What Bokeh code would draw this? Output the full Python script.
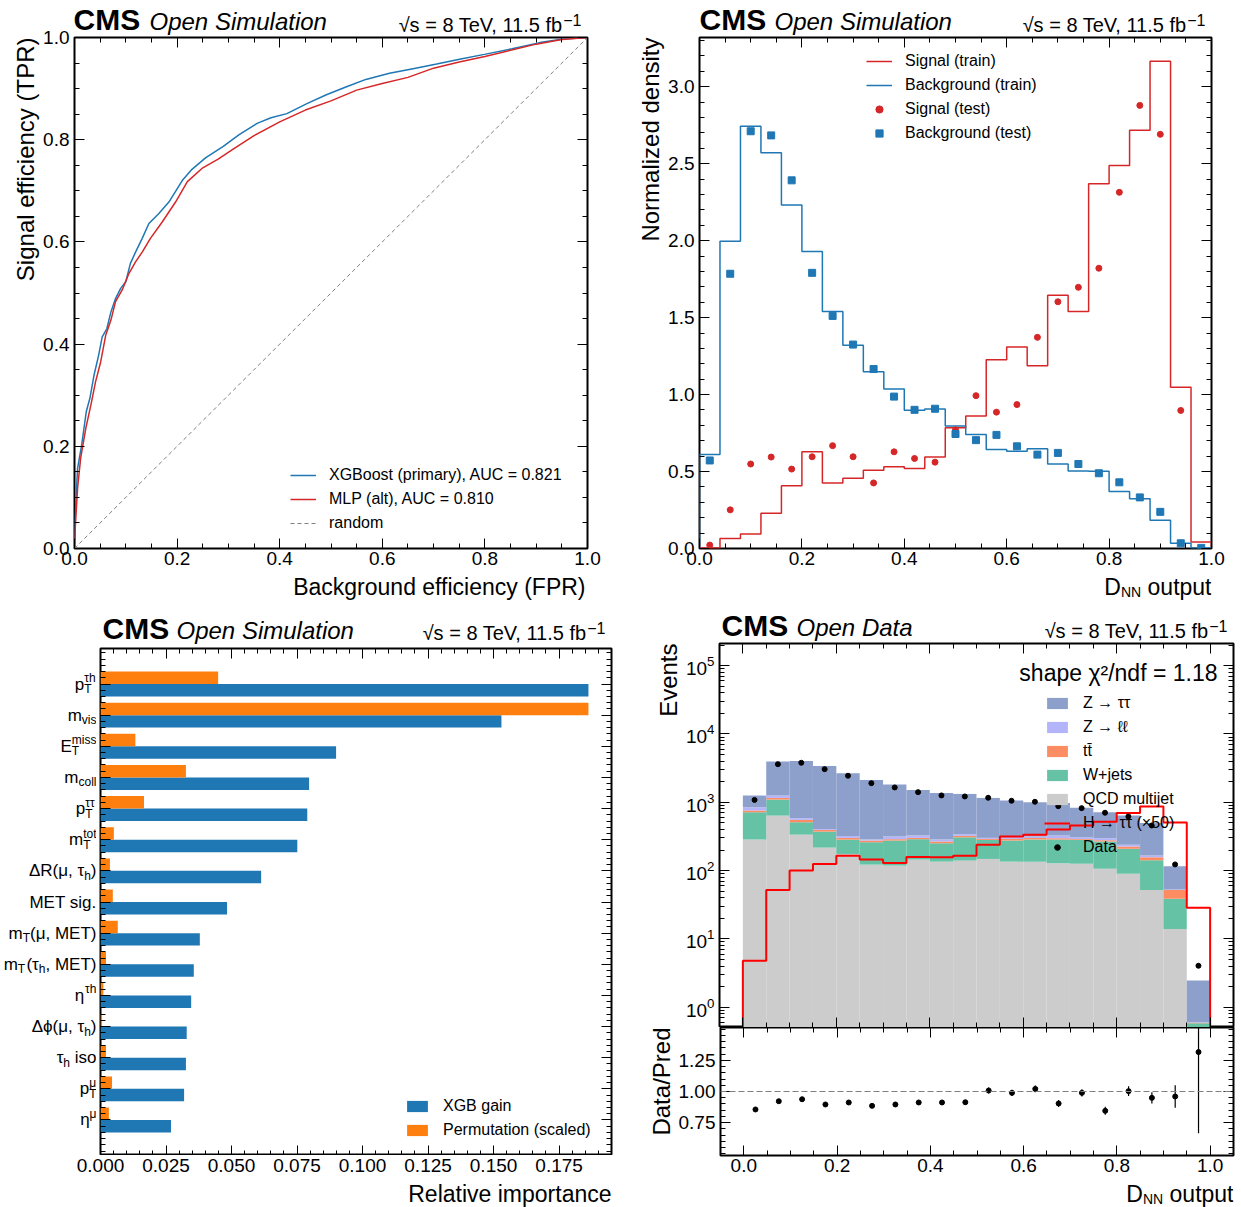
import math
import numpy as np
from bokeh.plotting import figure
from bokeh.models import (Range1d, Label, Legend, LegendItem, SingleIntervalTicker, FixedTicker,
                          NumeralTickFormatter, CustomJSTickFormatter, LinearAxis, LogAxis,
                          LogTickFormatter, Span)
from bokeh.layouts import row, column
from bokeh.embed import file_html
from bokeh.resources import INLINE

FONT = "Liberation Sans"
NAN = float("nan")

# ---------------- ROC curves ----------------
xgb_fpr = [0.0, 0.001, 0.003, 0.006, 0.014, 0.023, 0.030, 0.038, 0.047, 0.054, 0.063, 0.071, 0.080,
           0.090, 0.100, 0.109, 0.119, 0.132, 0.145, 0.164, 0.184, 0.210, 0.229, 0.256, 0.290, 0.321,
           0.356, 0.383, 0.414, 0.452, 0.491, 0.529, 0.568, 0.614, 0.660, 0.706, 0.753, 0.799, 0.853,
           0.907, 0.953, 1.0]
xgb_tpr = [0.0, 0.053, 0.098, 0.157, 0.203, 0.268, 0.294, 0.339, 0.378, 0.414, 0.430, 0.463, 0.489,
           0.509, 0.522, 0.558, 0.580, 0.607, 0.636, 0.655, 0.678, 0.720, 0.742, 0.765, 0.787, 0.810,
           0.832, 0.843, 0.851, 0.870, 0.888, 0.903, 0.918, 0.930, 0.939, 0.948, 0.958, 0.967, 0.978,
           0.990, 0.997, 1.0]
mlp_fpr = [0.0, 0.001, 0.006, 0.012, 0.022, 0.032, 0.041, 0.051, 0.061, 0.071, 0.080, 0.093, 0.106,
           0.119, 0.132, 0.148, 0.171, 0.197, 0.220, 0.250, 0.280, 0.310, 0.350, 0.400, 0.450, 0.500,
           0.550, 0.600, 0.650, 0.700, 0.750, 0.800, 0.850, 0.900, 0.950, 1.0]
mlp_tpr = [0.0, 0.033, 0.118, 0.177, 0.235, 0.281, 0.326, 0.365, 0.418, 0.447, 0.483, 0.506, 0.538,
           0.561, 0.580, 0.607, 0.639, 0.678, 0.718, 0.745, 0.762, 0.782, 0.808, 0.835, 0.858, 0.876,
           0.897, 0.910, 0.922, 0.940, 0.952, 0.963, 0.975, 0.987, 0.996, 1.0]
random_fpr = [0.0, 1.0]
random_tpr = [0.0, 1.0]
roc_labels = ["XGBoost (primary), AUC = 0.821", "MLP (alt), AUC = 0.810", "random"]

# ---------------- classifier output (25 bins on [0, 1]) ----------------
score_edges = np.linspace(0.0, 1.0, 26)
sig_train = [0.004, 0.065, 0.094, 0.229, 0.408, 0.628, 0.426, 0.457, 0.509, 0.531, 0.520, 0.594, 0.785,
             0.861, 1.226, 1.309, 1.188, 1.646, 1.540, 2.370, 2.489, 2.717, 3.166, 1.047, 0.043]
bkg_train = [0.610, 1.996, 2.744, 2.572, 2.231, 1.930, 1.540, 1.321, 1.148, 1.036, 0.899, 0.906, 0.796,
             0.740, 0.643, 0.632, 0.648, 0.549, 0.504, 0.502, 0.370, 0.323, 0.184, 0.034, 0.004]
sig_test = [0.022, 0.251, 0.549, 0.594, 0.516, 0.596, 0.668, 0.596, 0.426, 0.628, 0.585, 0.561, 0.771,
            0.993, 0.886, 0.935, 1.372, 1.603, 1.697, 1.821, 2.314, 2.879, 2.691, 0.897, NAN]
bkg_test = [0.572, 1.785, 2.711, 2.684, 2.392, 1.791, 1.511, 1.325, 1.166, 0.987, 0.901, 0.908, 0.744,
            0.704, 0.738, 0.664, 0.610, 0.621, 0.549, 0.489, 0.430, 0.332, 0.238, 0.034, 0.004]
score_labels = ["Signal (train)", "Background (train)", "Signal (test)", "Background (test)"]

# ---------------- feature importance ----------------
# label pieces: ("n", text) normal, ("sub", t), ("sup", t), ("ss", sub, sup)
feature_labels = [
    [("n", "p"), ("ss", "T", "τh")],
    [("n", "m"), ("sub", "vis")],
    [("n", "E"), ("ss", "T", "miss")],
    [("n", "m"), ("sub", "coll")],
    [("n", "p"), ("ss", "T", "ττ")],
    [("n", "m"), ("ss", "T", "tot")],
    [("n", "ΔR(μ, τ"), ("sub", "h"), ("n", ")")],
    [("n", "MET sig.")],
    [("n", "m"), ("sub", "T"), ("n", "(μ, MET)")],
    [("n", "m"), ("sub", "T"), ("n", "(τ"), ("sub", "h"), ("n", ", MET)")],
    [("n", "η"), ("sup", "τh")],
    [("n", "Δϕ(μ, τ"), ("sub", "h"), ("n", ")")],
    [("n", "τ"), ("sub", "h"), ("n", " iso")],
    [("n", "p"), ("ss", "T", "μ")],
    [("n", "η"), ("sup", "μ")],
]
xgb_gain = [0.1862, 0.1530, 0.0899, 0.0796, 0.0789, 0.0751, 0.0613, 0.0483, 0.0379, 0.0356, 0.0346,
            0.0329, 0.0326, 0.0319, 0.0269]
perm_scaled = [0.0449, 0.1862, 0.0133, 0.0326, 0.0166, 0.0051, 0.0036, 0.0047, 0.0066, 0.0021, 0.0011,
               0.0006, 0.0021, 0.0044, 0.0032]
imp_labels = ["XGB gain", "Permutation (scaled)"]

# ---------------- DNN output in data (20 bins on [0, 1]) ----------------
dnn_edges = np.linspace(0.0, 1.0, 21)
qcd = [284, 638, 336, 217, 175, 122, 118, 145, 135, 140, 148, 135, 135, 128, 126, 106, 90, 52, 14, 0]
wjets = [430, 456, 174, 155, 109, 138, 157, 143, 116, 167, 133, 140, 149, 156, 156, 161, 118, 89, 24.6, 0.58]
ttbar = [41, 63, 41, 22, 17, 15, 13, 13, 15, 15, 10, 16, 17, 13, 8, 11, 17, 16, 13.4, 0.01]
zll = [90, 96, 32, 13, 21, 9, 27, 24, 18, 18, 10, 16, 14, 28, 18, 20, 14, 9, 1, 0.01]
ztt = [408, 2684, 3444, 2996, 2333, 1838, 1499, 1190, 1086, 984, 856, 751, 685, 650, 522, 418, 402, 329, 63, 1.86]
htt_x50 = [4.78, 52, 100, 125, 165, 145, 129, 158, 156, 165, 239, 316, 334, 398, 457, 520, 697, 868, 506, 28.5]
data_obs = [1082, 3612, 3787, 3055, 2443, 1905, 1648, 1406, 1259, 1216, 1163, 1052, 1016, 877, 820, 702,
            620, 457, 123, 4.04]
ratio = [0.856, 0.922, 0.938, 0.896, 0.912, 0.885, 0.896, 0.912, 0.912, 0.914, 1.008, 0.989, 1.021,
         0.904, 0.989, 0.845, 1.003, 0.949, 0.960, 1.316]
ratio_err = [0.012, 0.010, 0.010, 0.010, 0.012, 0.012, 0.013, 0.014, 0.016, 0.018, 0.025, 0.025, 0.027,
             0.028, 0.030, 0.032, 0.040, 0.045, 0.090, 0.650]
proc_labels = ["Z → ττ", "Z → ℓℓ", "tt\u0304", "W+jets", "QCD multijet", "H → ττ (×50)", "Data"]
proc_colors = ["#8DA0CB", "#B4B4FA", "#FC8D62", "#66C2A5", "#CCCCCC"]
chi2_text = "shape χ²/ndf = 1.18"

BLUE = "#1f77b4"
RED = "#d62728"
ORANGE = "#ff7f0e"

# ---------------- helpers ----------------
CW = {" ": 278, "(": 333, ")": 333, ",": 278, ".": 278, "/": 278, "=": 584, "A": 667, "B": 667,
      "C": 722, "D": 722, "E": 667, "F": 611, "M": 833, "N": 722, "P": 667, "R": 722, "S": 667,
      "T": 611, "a": 556, "c": 500, "e": 556, "g": 556, "h": 556, "i": 222, "l": 222, "m": 833,
      "n": 556, "o": 556, "p": 556, "s": 500, "t": 278, "u": 556, "v": 500, "Δ": 668, "μ": 576,
      "τ": 470, "η": 556, "ϕ": 680}
MID = 0.35  # distance baseline -> text middle, in font sizes


def tw(s, size):
    return sum(CW.get(c, 556) for c in s) * size / 1000.0


def add_text(p, x, y, text, size, xo=0.0, yo=0.0, align="left", baseline="alphabetic",
             style="normal", angle=0.0):
    if baseline == "alphabetic":
        # anchor given on the baseline: convert to a middle anchor
        shift = MID * size
        xo = xo - math.sin(angle) * shift
        yo = yo + math.cos(angle) * shift
        baseline = "middle"
    p.add_layout(Label(x=x, y=y, x_units="data", y_units="data", x_offset=xo, y_offset=yo,
                       text=text, text_font=FONT, text_font_size=f"{size}px",
                       text_font_style=style, text_align=align, text_baseline=baseline,
                       angle=angle, text_color="black"))


def rich_right(p, x, y, segs, size, small, xo, yo, sub_dy, sup_dy, baseline):
    cur = float(xo)
    for seg in reversed(segs):
        kind = seg[0]
        if kind == "ss":
            w = max(tw(seg[1], small), tw(seg[2], small))
            start = cur - w
            add_text(p, x, y, seg[1], small, start, yo + sub_dy, "left", baseline)
            add_text(p, x, y, seg[2], small, start, yo + sup_dy, "left", baseline)
            cur = start
            continue
        s = seg[1]
        fs = size if kind == "n" else small
        dy = 0 if kind == "n" else (sub_dy if kind == "sub" else sup_dy)
        trail = len(s) - len(s.rstrip())
        right = cur - tw(s[len(s) - trail:], fs) if trail else cur
        add_text(p, x, y, s.strip(), fs, right, yo + dy, "right", baseline)
        cur -= tw(s, fs)


def header(p, x0, x1, word, cms_xo, word_xo, base_cms, base_lumi):
    add_text(p, x0, base_cms, "CMS", 30, cms_xo, 0, style="bold")
    add_text(p, x0, base_cms, word, 24, word_xo, 0, style="italic")
    add_text(p, x1, base_lumi, "√s = 8 TeV, 11.5 fb", 20, -25, 0, align="right")
    add_text(p, x1, base_lumi, "−1", 16, -6, 5.5, align="right")


def base_fig(w, h, xr, yr, bl, br, bt, bb, ylog=False):
    p = figure(width=w, height=h, x_range=xr, y_range=yr,
               y_axis_type="log" if ylog else "linear",
               output_backend="svg", toolbar_location=None,
               min_border_left=bl, min_border_right=br, min_border_top=bt, min_border_bottom=bb)
    p.grid.visible = False
    p.outline_line_color = "black"
    p.outline_line_width = 2
    p.background_fill_color = "white"
    p.border_fill_color = "white"
    return p


def strip(w, h, xr, yr, bl=0, br=0, bt=0, bb=0):
    p = figure(width=w, height=h, x_range=xr, y_range=yr, x_axis_type=None, y_axis_type=None,
               output_backend="svg", toolbar_location=None,
               min_border_left=bl, min_border_right=br, min_border_top=bt, min_border_bottom=bb)
    p.outline_line_color = None
    p.background_fill_color = "white"
    p.border_fill_color = "white"
    return p


def style_axis(ax, ticker, formatter=None, blank=False, standoff=5):
    ax.ticker = ticker
    ax.major_tick_in = 10
    ax.major_tick_out = 0
    ax.minor_tick_in = 5
    ax.minor_tick_out = 0
    ax.major_tick_line_color = "black"
    ax.minor_tick_line_color = "black"
    ax.major_tick_line_width = 1
    ax.minor_tick_line_width = 1
    ax.axis_line_color = None
    ax.axis_label = None
    ax.major_label_text_font = FONT
    ax.major_label_text_font_size = "19px"
    ax.major_label_text_color = "black"
    ax.major_label_standoff = standoff
    if blank:
        ax.formatter = CustomJSTickFormatter(code="return ''")
        ax.major_label_text_font_size = "0px"
        ax.major_label_standoff = 0
    elif formatter is not None:
        ax.formatter = formatter


def setup_axes(p, xt, yt, xfmt=None, yfmt=None, blank_x=False, blank_y=False, ylog=False):
    style_axis(p.xaxis[0], xt, xfmt, blank_x, standoff=3)
    style_axis(p.yaxis[0], yt, yfmt, blank_y)
    ax = LinearAxis()
    style_axis(ax, xt, blank=True)
    p.add_layout(ax, "above")
    ay = LogAxis() if ylog else LinearAxis()
    style_axis(ay, yt, blank=True)
    p.add_layout(ay, "right")


def make_legend(p, items, loc, gh=18):
    lg = Legend(items=items, location=loc, orientation="vertical", glyph_width=26, glyph_height=gh,
                label_height=18, label_standoff=13, spacing=6, padding=0, margin=0,
                label_text_font=FONT, label_text_font_size="16px", label_text_color="black",
                border_line_color=None, background_fill_alpha=0)
    p.add_layout(lg)


def step_xy(edges, vals, floor=0.0):
    xs = np.repeat(np.asarray(edges, dtype=float), 2)
    ys = np.concatenate([[floor], np.repeat(np.asarray(vals, dtype=float), 2), [floor]])
    return xs, ys


DNN_LABEL = [("n", "D"), ("sub", "NN"), ("n", " output")]

# ================= panel 1: ROC =================
# the header strip overlaps the plot's transparent top border by 11 px so the
# "1.0" tick label at the very top of the y axis has room
xr1 = Range1d(0, 1)
p1 = base_fig(580, 548, xr1, Range1d(0, 1), 32, 33, 12, 25)
p1.border_fill_alpha = 0
setup_axes(p1, SingleIntervalTicker(interval=0.2, num_minor_ticks=4),
           SingleIntervalTicker(interval=0.2, num_minor_ticks=4),
           NumeralTickFormatter(format="0.0"), NumeralTickFormatter(format="0.0"))
r_rand = p1.line(random_fpr, random_tpr, line_color="gray", line_dash="4 3", line_width=1)
r_xgb = p1.line(xgb_fpr, xgb_tpr, line_color=BLUE, line_width=1.5)
r_mlp = p1.line(mlp_fpr, mlp_tpr, line_color=RED, line_width=1.5)
make_legend(p1, [LegendItem(label=roc_labels[0], renderers=[r_xgb]),
                 LegendItem(label=roc_labels[1], renderers=[r_mlp]),
                 LegendItem(label=roc_labels[2], renderers=[r_rand])], (216, 16))
hdr1 = strip(620, 36, xr1, Range1d(0, 36), bl=72, br=33)
hdr1.margin = (0, 0, -11, 0)
header(hdr1, 0, 1, "Open Simulation", 1, 77, 6.5, 5)
ylab1 = strip(40, 548, Range1d(0, 40), Range1d(0, 511), bt=12, bb=25)
ylab1.border_fill_alpha = 0
add_text(ylab1, 33, 511, "Signal efficiency (TPR)", 24, 0, 0, align="right", angle=math.pi / 2)
xlab1 = strip(620, 27, xr1, Range1d(0, 27), bl=72, br=33)
add_text(xlab1, 1, 5.8, "Background efficiency (FPR)", 23, -2, 0, align="right")
block1 = column(hdr1, row(ylab1, p1), xlab1)

# ================= panel 2: classifier output =================
xr2 = Range1d(0, 1)
p2 = base_fig(576, 537, xr2, Range1d(0, 3.32), 32, 30, 1, 25)
setup_axes(p2, SingleIntervalTicker(interval=0.2, num_minor_ticks=4),
           SingleIntervalTicker(interval=0.5, num_minor_ticks=5),
           NumeralTickFormatter(format="0.0"), NumeralTickFormatter(format="0.0"))
centers25 = 0.5 * (score_edges[:-1] + score_edges[1:])
xs, ys = step_xy(score_edges, sig_train)
r_st = p2.line(xs, ys, line_color=RED, line_width=1.5)
xs, ys = step_xy(score_edges, bkg_train)
r_bt = p2.line(xs, ys, line_color=BLUE, line_width=1.5)
r_se = p2.scatter(centers25, sig_test, marker="circle", size=6, fill_color=RED, line_color=RED)
r_be = p2.scatter(centers25, bkg_test, marker="square", size=7, fill_color=BLUE, line_color=BLUE)
r_se_bar = p2.scatter([NAN], [NAN], marker="dash", angle=math.pi / 2, size=12, line_color=RED, line_width=1.5)
r_be_bar = p2.scatter([NAN], [NAN], marker="dash", angle=math.pi / 2, size=12, line_color=BLUE, line_width=1.5)
make_legend(p2, [LegendItem(label=score_labels[0], renderers=[r_st]),
                 LegendItem(label=score_labels[1], renderers=[r_bt]),
                 LegendItem(label=score_labels[2], renderers=[r_se, r_se_bar]),
                 LegendItem(label=score_labels[3], renderers=[r_be, r_be_bar])], (167, 406))
hdr2 = strip(621, 36, xr2, Range1d(0, 36), bl=77, br=30)
header(hdr2, 0, 1, "Open Simulation", 2, 77, 6.5, 5)
ylab2 = strip(45, 537, Range1d(0, 45), Range1d(0, 511), bt=1, bb=25)
add_text(ylab2, 38, 511, "Normalized density", 24, 0, 0, align="right", angle=math.pi / 2)
xlab2 = strip(621, 27, xr2, Range1d(0, 27), bl=77, br=30)
rich_right(xlab2, 1, 5.8, DNN_LABEL, 23, 14, 0, 0, -2.5, 8, "alphabetic")
block2 = column(hdr2, row(ylab2, p2), xlab2)

# ================= panel 3: feature importance =================
nfeat = len(xgb_gain)
xr3 = Range1d(0, 0.195)
yr3 = Range1d(nfeat + 0.14, -1.14)
xt3 = SingleIntervalTicker(interval=0.025, num_minor_ticks=5)
p3 = base_fig(524, 509, xr3, yr3, 4, 9, 2, 0)
ymin_ticks = [round(-1.0 + 0.2 * k, 3) for k in range(int((nfeat + 1) / 0.2) + 1)]
setup_axes(p3, xt3, FixedTicker(ticks=list(range(nfeat)), minor_ticks=ymin_ticks),
           None, None, blank_x=True, blank_y=True)
ypos = np.arange(nfeat)
r_gain = p3.hbar(y=ypos + 0.2, right=xgb_gain, left=0, height=0.4, fill_color=BLUE, line_color=None)
r_perm = p3.hbar(y=ypos - 0.2, right=perm_scaled, left=0, height=0.4, fill_color=ORANGE, line_color=None)
make_legend(p3, [LegendItem(label=imp_labels[0], renderers=[r_gain]),
                 LegendItem(label=imp_labels[1], renderers=[r_perm])], (304, 16), gh=14)
hdr3 = strip(620, 46, xr3, Range1d(0, 46), bl=100, br=9)
header(hdr3, 0, 0.195, "Open Simulation", 2, 76, 8, 7)
ylab3 = strip(96, 509, Range1d(0, 96), yr3, bt=2, bb=0)
for i, segs in enumerate(feature_labels):
    rich_right(ylab3, 96, i, segs, 17, 12, 0, 0, -5, 6, "middle")
# x tick labels: library axis in its own thin strip so "0.000" is not cut
axs3 = figure(width=620, height=25, x_range=xr3, y_range=Range1d(0, 1), y_axis_type=None,
              output_backend="svg", toolbar_location=None,
              min_border_left=100, min_border_right=9, min_border_top=0, min_border_bottom=24)
axs3.grid.visible = False
axs3.outline_line_color = None
axs3.border_fill_color = "white"
style_axis(axs3.xaxis[0], xt3, NumeralTickFormatter(format="0.000"), standoff=2)
axs3.xaxis[0].major_tick_in = 0
axs3.xaxis[0].minor_tick_in = 0
xlab3 = strip(620, 27, xr3, Range1d(0, 27), bl=100, br=9)
add_text(xlab3, 0.195, 5.8, "Relative importance", 23, 0, 0, align="right")
block3 = column(hdr3, row(ylab3, p3), axs3, xlab3)

# ================= panel 4: DNN output stack + ratio =================
xr4 = Range1d(-0.05, 1.05)
ytop4 = 2.11e5
p4 = base_fig(559, 385, xr4, Range1d(0.504, ytop4), 37, 8, 1, 0, ylog=True)
decades = [1, 10, 100, 1000, 10000, 100000]
log_minor = [m * 10.0 ** k for k in range(-1, 6) for m in range(2, 10)]
setup_axes(p4, SingleIntervalTicker(interval=0.2, num_minor_ticks=4),
           FixedTicker(ticks=decades, minor_ticks=log_minor),
           None, LogTickFormatter(), blank_x=True, ylog=True)
floor = 1e-2
stack = np.array([qcd, wjets, ttbar, zll, ztt], dtype=float)
tops = np.cumsum(stack, axis=0)
bottoms = np.vstack([np.zeros(len(qcd)), tops[:-1]])
left, right = dnn_edges[:-1], dnn_edges[1:]
order_colors = [proc_colors[4], proc_colors[3], proc_colors[2], proc_colors[1], proc_colors[0]]
quads = []
for k in range(5):
    quads.append(p4.quad(left=left, right=right, bottom=np.maximum(bottoms[k], floor),
                         top=np.maximum(tops[k], floor), fill_color=order_colors[k], line_color=None))
xs, ys = step_xy(dnn_edges, htt_x50, floor=floor)
r_h = p4.line(xs, ys, line_color="#ff0000", line_width=2)
centers20 = 0.5 * (left + right)
r_d = p4.scatter(centers20, data_obs, marker="circle", size=5, fill_color="black", line_color="black")
r_d_bar = p4.scatter([NAN], [NAN], marker="dash", angle=math.pi / 2, size=14, line_color="black", line_width=1.5)
make_legend(p4, [LegendItem(label=proc_labels[0], renderers=[quads[4]]),
                 LegendItem(label=proc_labels[1], renderers=[quads[3]]),
                 LegendItem(label=proc_labels[2], renderers=[quads[2]]),
                 LegendItem(label=proc_labels[3], renderers=[quads[1]]),
                 LegendItem(label=proc_labels[4], renderers=[quads[0]]),
                 LegendItem(label=proc_labels[5], renderers=[r_h]),
                 LegendItem(label=proc_labels[6], renderers=[r_d, r_d_bar])], (325, 171), gh=14)
add_text(p4, 1.05, ytop4, chi2_text, 23, -16, -38, align="right")

p5 = base_fig(566, 153, xr4, Range1d(0.487, 1.513), 44, 8, 0, 25)
setup_axes(p5, SingleIntervalTicker(interval=0.2, num_minor_ticks=4),
           FixedTicker(ticks=[0.75, 1.0, 1.25], minor_ticks=[round(0.5 + 0.05 * k, 3) for k in range(21)]),
           NumeralTickFormatter(format="0.0"), NumeralTickFormatter(format="0.00"))
p5.add_layout(Span(location=1.0, dimension="width", line_color="gray", line_dash="6 3", line_width=1))
rr = np.asarray(ratio)
re = np.asarray(ratio_err)
p5.segment(x0=centers20, y0=rr - re, x1=centers20, y1=rr + re, line_color="black", line_width=1.2)
p5.scatter(centers20, ratio, marker="circle", size=5, fill_color="black", line_color="black")

hdr4 = strip(621, 42, xr4, Range1d(0, 42), bl=99, br=8)
header(hdr4, -0.05, 1.05, "Open Data", 2, 77, 6.5, 5)
ylab4 = strip(62, 385, Range1d(0, 62), Range1d(0, 384), bt=1, bb=0)
add_text(ylab4, 56, 384, "Events", 24, 0, 0, align="right", angle=math.pi / 2)
ylab5 = strip(55, 153, Range1d(0, 55), Range1d(0, 128), bt=0, bb=25)
add_text(ylab5, 49, 128, "Data/Pred", 24, 0, 0, align="right", angle=math.pi / 2)
xlab4 = strip(621, 27, xr4, Range1d(0, 27), bl=99, br=8)
rich_right(xlab4, 1.05, 5.8, DNN_LABEL, 23, 14, 0, 0, -2.5, 8, "alphabetic")
block4 = column(hdr4, row(ylab4, p4), row(ylab5, p5), xlab4)

layout = column(row(block1, block2), row(block3, block4))
open("out.html", "w").write(file_html(layout, INLINE))
